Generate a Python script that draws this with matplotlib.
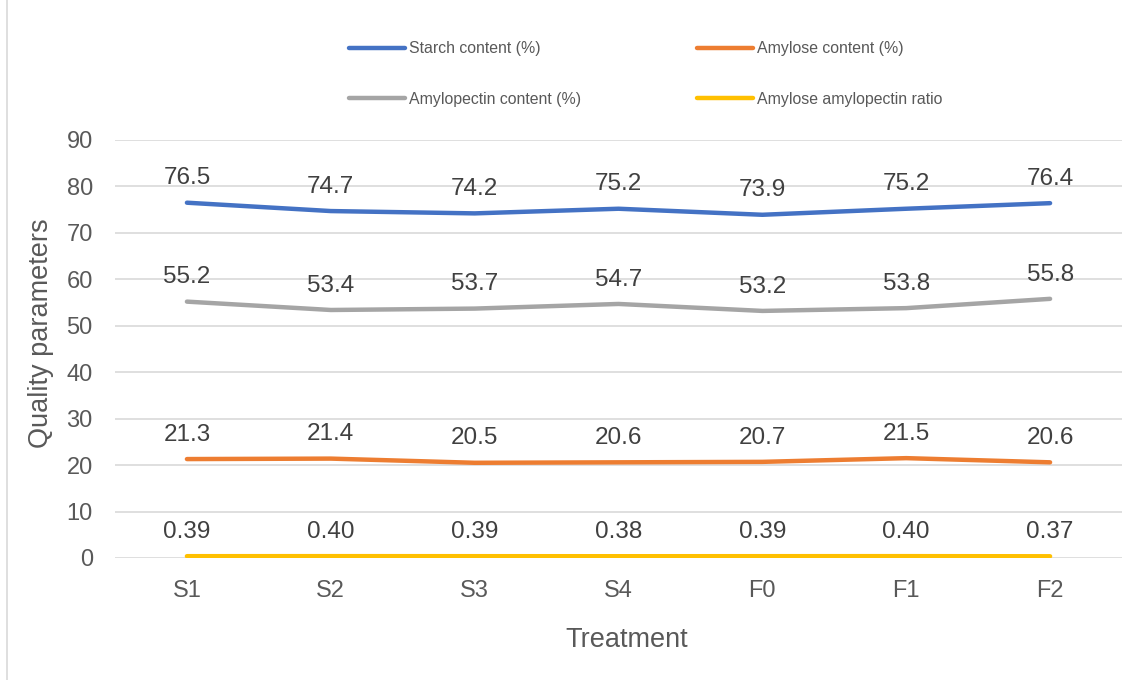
import matplotlib.pyplot as plt
from matplotlib.patches import Rectangle

plt.rcParams["font.family"] = ["Liberation Sans", "DejaVu Sans"]

treatments = ["S1", "S2", "S3", "S4", "F0", "F1", "F2"]
starch = [76.5, 74.7, 74.2, 75.2, 73.9, 75.2, 76.4]
amylose = [21.3, 21.4, 20.5, 20.6, 20.7, 21.5, 20.6]
amylopectin = [55.2, 53.4, 53.7, 54.7, 53.2, 53.8, 55.8]
ratio = [0.39, 0.40, 0.39, 0.38, 0.39, 0.40, 0.37]

series = [
    ("Starch content (%)", starch, "#4472C4", "{:.1f}"),
    ("Amylose content (%)", amylose, "#ED7D31", "{:.1f}"),
    ("Amylopectin content (%)", amylopectin, "#A5A5A5", "{:.1f}"),
    ("Amylose amylopectin ratio", ratio, "#FFC000", "{:.2f}"),
]

fig = plt.figure(figsize=(11.47, 6.8), dpi=100)
ax = fig.add_axes([115 / 1147, 1 - 558 / 680, (1122 - 115) / 1147, (558 - 140) / 680])

x = list(range(len(treatments)))
lines = {}
for name, vals, color, fmt in series:
    (ln,) = ax.plot(x, vals, color=color, lw=3.2, solid_capstyle="round", label=name, zorder=3)
    lines[name] = ln
    for xi, v in zip(x, vals):
        ax.annotate(fmt.format(v), (xi, v), xytext=(0, 17.5), textcoords="offset points",
                    ha="center", va="center", fontsize=17.5, color="#404040")

ax.set_xlim(-0.5, len(treatments) - 0.5)
ax.set_ylim(0, 90)
ax.set_yticks(range(0, 91, 10))
ax.set_xticks(x)
ax.set_xticklabels(treatments)
ax.grid(axis="y", color="#D9D9D9", lw=1.2)
ax.set_axisbelow(True)
for s in ax.spines.values():
    s.set_visible(False)
ax.tick_params(length=0, labelsize=17, colors="#595959")
ax.tick_params(axis="y", pad=16)
ax.tick_params(axis="x", pad=16)
ax.set_ylabel("Quality parameters", fontsize=19.5, color="#595959")
ax.yaxis.set_label_coords(-0.061, 0.538)
ax.set_xlabel("Treatment", fontsize=19.5, color="#595959", labelpad=18)
ax.xaxis.label.set_x(0.508)

order = ["Starch content (%)", "Amylopectin content (%)", "Amylose content (%)", "Amylose amylopectin ratio"]
fig.legend([lines[n] for n in order], order, ncol=2, loc="upper left",
           bbox_to_anchor=(335 / 1147, 1 - 27 / 680), frameon=False, fontsize=11.4,
           handlelength=3.55, handletextpad=0.25, columnspacing=7.3, labelspacing=2.25,
           labelcolor="#595959")

fig.patches.append(Rectangle((7 / 1147, -0.01), 1.1, 1.2, transform=fig.transFigure,
                             fill=False, edgecolor="#D9D9D9", lw=1.2))

fig.savefig("out.png", dpi=100)
